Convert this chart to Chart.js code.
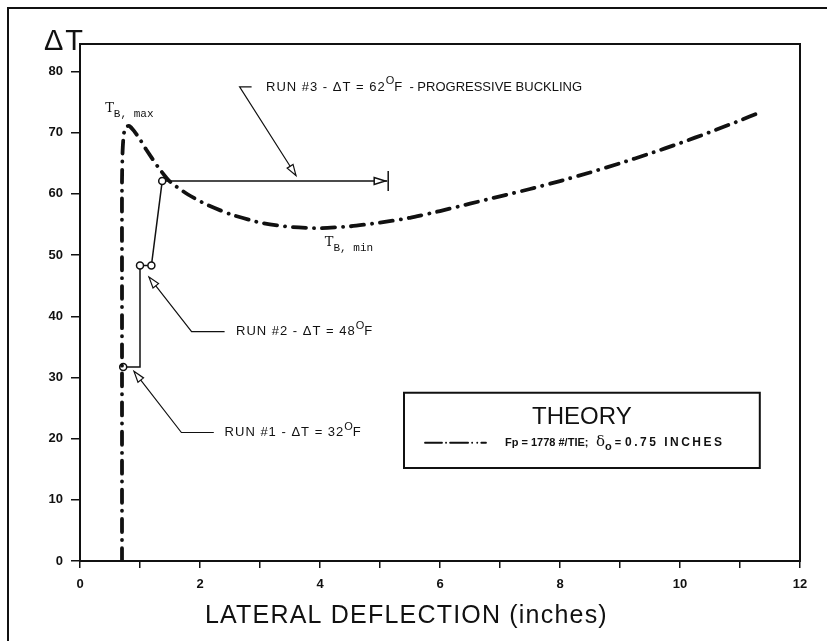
<!DOCTYPE html>
<html>
<head>
<meta charset="utf-8">
<script src="https://cdn.jsdelivr.net/npm/chart.js@4.4.1/dist/chart.umd.min.js"></script>
<style>
  body { margin: 0; background: #fff; }
  canvas { display: block; }
</style>
</head>
<body>
<canvas id="buckling" width="827" height="641"></canvas>
<script>
// theory curve, Fp = 1778 #/TIE, delta0 = 0.75 in
const theoryX = [0.70, 0.70, 0.70, 0.70, 0.70, 0.71, 0.73, 0.77, 0.82, 0.90, 1.00, 1.10, 1.30, 1.50, 1.80, 2.10, 2.50, 3.00, 3.50, 4.00, 4.50, 5.00, 5.50, 6.00, 6.50, 7.00, 7.50, 8.00, 8.50, 9.00, 9.50, 10.00, 10.50, 11.00, 11.30];
const theoryY = [0, 15, 30, 45, 62, 67, 69.8, 71.0, 71.1, 70.3, 68.9, 67.3, 64.4, 62.0, 59.9, 58.3, 56.7, 55.3, 54.6, 54.4, 54.7, 55.3, 56.1, 57.2, 58.4, 59.6, 60.8, 62.1, 63.5, 65.0, 66.6, 68.3, 70.1, 72.0, 73.2];

// test runs path (run #1 -> run #2 -> run #3)
const runX = [0.72, 1.00, 1.00, 1.19, 1.37, 5.12];
const runY = [31.7, 31.7, 48.3, 48.3, 62.1, 62.1];
const runCircle = [true, false, true, true, true, false];

const yTickValues = [0, 10, 20, 30, 40, 50, 60, 70, 80];
const xLabelValues = [0, 2, 4, 6, 8, 10, 12];

const ink = '#111';
const sans = '"Liberation Sans", Arial, sans-serif';

function rich(ctx, x, y, parts) {
    // parts: [text, font, dy, spacing]
    parts.forEach(p => {
        ctx.font = p[1];
        ctx.letterSpacing = (p[3] || 0) + 'px';
        ctx.fillText(p[0], x, y + (p[2] || 0));
        x += ctx.measureText(p[0]).width;
    });
    ctx.letterSpacing = '0px';
    return x;
}

function arrowHead(ctx, tx, ty, fx, fy) {
    const ang = Math.atan2(ty - fy, tx - fx), len = 11, w = 3.5;
    ctx.beginPath();
    ctx.moveTo(tx, ty);
    ctx.lineTo(tx - len * Math.cos(ang) + w * Math.sin(ang), ty - len * Math.sin(ang) - w * Math.cos(ang));
    ctx.lineTo(tx - len * Math.cos(ang) - w * Math.sin(ang), ty - len * Math.sin(ang) + w * Math.cos(ang));
    ctx.closePath();
    ctx.fillStyle = '#fff';
    ctx.fill();
    ctx.stroke();
    ctx.fillStyle = ink;
}

function leader(ctx, pts) {
    ctx.beginPath();
    ctx.moveTo(pts[0][0], pts[0][1]);
    for (let i = 1; i < pts.length; i++) ctx.lineTo(pts[i][0], pts[i][1]);
    ctx.stroke();
    const n = pts.length;
    arrowHead(ctx, pts[n - 1][0], pts[n - 1][1], pts[n - 2][0], pts[n - 2][1]);
}

const overlay = {
    id: 'overlay',
    afterDatasetsDraw(chart) {
        const { ctx, chartArea: a, scales: { x, y } } = chart;
        const px = v => x.getPixelForValue(v), py = v => y.getPixelForValue(v);
        ctx.save();
        ctx.strokeStyle = ink;
        ctx.fillStyle = ink;

        // plot frame and page frame
        ctx.lineWidth = 2;
        ctx.strokeRect(a.left, a.top, a.right - a.left, a.bottom - a.top);
        ctx.beginPath();
        ctx.moveTo(8, chart.height);
        ctx.lineTo(8, 8);
        ctx.lineTo(chart.width, 8);
        ctx.stroke();

        // delta T label
        ctx.textBaseline = 'alphabetic';
        rich(ctx, a.left - 36, a.top + 6, [['\u0394', '29px ' + sans, 0, 2], ['T', '29px ' + sans]]);

        // x title
        rich(ctx, 205, 623, [['LATERAL DEFLECTION (inches)', '25px ' + sans, 0, 1.2]]);

        // end of run #3
        ctx.lineWidth = 1.5;
        const ex = px(runX[runX.length - 1]), ey = py(runY[runY.length - 1]);
        arrowHead(ctx, ex - 2, ey, ex - 20, ey);
        ctx.beginPath();
        ctx.moveTo(ex + 1, ey - 10);
        ctx.lineTo(ex + 1, ey + 10);
        ctx.stroke();

        // leaders
        ctx.lineWidth = 1.2;
        leader(ctx, [[px(2.86), py(77.5)], [px(2.66), py(77.5)], [px(3.6), py(63.0)]]);
        leader(ctx, [[px(2.41), py(37.5)], [px(1.86), py(37.5)], [px(1.15), py(46.4)]]);
        leader(ctx, [[px(2.23), py(21.0)], [px(1.69), py(21.0)], [px(0.9), py(31.0)]]);

        // run labels
        const f = '13px ' + sans, fs = '11px ' + sans;
        ctx.textBaseline = 'middle';
        rich(ctx, px(3.1), py(77.4), [['RUN #3 - \u0394T = 62', f, 0, 1], ['O', fs, -6], ['F', f], ['  - PROGRESSIVE BUCKLING', f]]);
        rich(ctx, px(2.6), py(37.5), [['RUN #2 - \u0394T = 48', f, 0, 1], ['O', fs, -6], ['F', f]]);
        rich(ctx, px(2.41), py(21.0), [['RUN #1 - \u0394T = 32', f, 0, 1], ['O', fs, -6], ['F', f]]);

        // T_B labels
        ctx.textBaseline = 'alphabetic';
        const tf = '13px "DejaVu Serif", serif', sf = '11px "Liberation Mono", monospace';
        rich(ctx, px(0.42), py(73.4), [['T', tf], ['B, max', sf, 5]]);
        rich(ctx, px(4.08), py(51.5), [['T', tf], ['B, min', sf, 5]]);

        // legend box
        const bl = px(5.4), bt = py(27.5), br = px(11.33), bb = py(15.2);
        ctx.lineWidth = 2;
        ctx.strokeRect(bl, bt, br - bl, bb - bt);
        ctx.font = '24px ' + sans;
        ctx.textAlign = 'center';
        ctx.fillText('THEORY', (bl + br) / 2, bt + 31);
        ctx.textAlign = 'left';
        ctx.lineWidth = 1.8;
        ctx.lineCap = 'round';
        ctx.setLineDash([17, 4, 0.1, 4, 18, 4, 0.1, 5, 0.1, 4]);
        ctx.beginPath();
        ctx.moveTo(bl + 21, bt + 50);
        ctx.lineTo(bl + 82, bt + 50);
        ctx.stroke();
        ctx.setLineDash([]);
        ctx.textBaseline = 'middle';
        const lf = 'bold 11px ' + sans;
        rich(ctx, bl + 101, bt + 50, [['Fp = 1778 #/TIE;', lf]]);
        rich(ctx, bl + 192, bt + 50, [['\u03b4', '15px "DejaVu Serif", serif', -1], ['o', lf, 4], [' =', lf]]);
        rich(ctx, bl + 221, bt + 50, [['0.75 INCHES', 'bold 12px ' + sans, 0, 2.5]]);
        ctx.restore();
    }
};

new Chart('buckling', {
    type: 'scatter',
    data: {
        datasets: [{
            label: 'theory',
            data: theoryX.map((v, i) => ({ x: v, y: theoryY[i] })),
            showLine: true,
            borderColor: ink,
            borderWidth: 3.8,
            borderDash: [13, 8, 0.1, 8],
            borderCapStyle: 'round',
            tension: 0.2,
            pointRadius: 0
        }, {
            label: 'runs',
            data: runX.map((v, i) => ({ x: v, y: runY[i] })),
            showLine: true,
            borderColor: ink,
            borderWidth: 1.5,
            tension: 0,
            pointRadius: runCircle.map(c => c ? 3.5 : 0),
            pointBorderWidth: 1.5,
            pointBorderColor: ink,
            pointBackgroundColor: '#fff'
        }]
    },
    options: {
        responsive: false,
        animation: false,
        layout: { padding: { left: 8, top: 44, right: 27, bottom: 0 } },
        plugins: { legend: { display: false }, tooltip: { enabled: false } },
        scales: {
            x: {
                type: 'linear',
                min: 0,
                max: 12,
                afterFit(s) { s.height = 80; },
                ticks: {
                    stepSize: 1,
                    padding: 9,
                    color: ink,
                    font: { family: sans, size: 13, weight: 'bold' },
                    callback: v => xLabelValues.includes(v) ? v : ''
                },
                grid: { drawOnChartArea: false, drawTicks: true, tickLength: 7, color: ink, lineWidth: 1.5 },
                border: { color: ink, width: 2 }
            },
            y: {
                min: 0,
                max: 84.5,
                afterFit(s) { s.width = 72; },
                ticks: {
                    stepSize: 10,
                    padding: 8,
                    color: ink,
                    font: { family: sans, size: 13, weight: 'bold' },
                    callback: v => yTickValues.includes(v) ? v : null
                },
                grid: { drawOnChartArea: false, drawTicks: true, tickLength: 9, color: ink, lineWidth: 1.5 },
                border: { color: ink, width: 2 }
            }
        }
    },
    plugins: [overlay]
});
</script>
</body>
</html>
